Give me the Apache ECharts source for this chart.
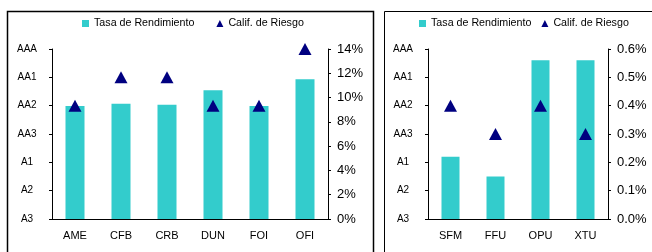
<!DOCTYPE html>
<html>
<head>
<meta charset="utf-8">
<script src="https://cdn.jsdelivr.net/npm/echarts@6/dist/echarts.min.js"></script>
<style>
  html, body { margin: 0; padding: 0; background: #fff; }
  #chart { width: 652px; height: 252px; }
</style>
</head>
<body>
<div id="chart"></div>
<script>
// calificaciones, de abajo hacia arriba
const ratings = ['A3', 'A2', 'A1', 'AA3', 'AA2', 'AA1', 'AAA'];

// panel izquierdo
const leftCats = ['AME', 'CFB', 'CRB', 'DUN', 'FOI', 'OFI'];
const leftRates = [9.3, 9.5, 9.4, 10.6, 9.3, 11.5];
const leftRisk = ['AA2', 'AA1', 'AA1', 'AA2', 'AA2', 'AAA'];

// panel derecho
const rightCats = ['SFM', 'FFU', 'OPU', 'XTU'];
const rightRates = [0.22, 0.15, 0.56, 0.56];
const rightRisk = ['AA2', 'AA3', 'AA2', 'AA3'];

const FONT = 'Liberation Sans, Arial, sans-serif';
const BAR = '#33CCCC';
const MARK = '#000080';
const AXIS = '#000';

function catAxis(idx, data) {
    return {
        type: 'category',
        gridIndex: idx,
        data: data,
        axisLine: { lineStyle: { color: AXIS } },
        axisTick: { length: 4, lineStyle: { color: AXIS } },
        axisLabel: { color: '#000', fontFamily: FONT, fontSize: 11, margin: 11 }
    };
}

function ratingAxis(idx) {
    return {
        type: 'category',
        gridIndex: idx,
        position: 'left',
        data: ratings,
        boundaryGap: false,
        axisLine: { show: true, lineStyle: { color: AXIS } },
        axisTick: { show: true, length: 3, lineStyle: { color: AXIS } },
        splitLine: { show: false },
        axisLabel: { color: '#000', fontFamily: FONT, fontSize: 10, align: 'center', margin: 25 }
    };
}

function rateAxis(idx, max, interval, fmt) {
    return {
        type: 'value',
        gridIndex: idx,
        position: 'right',
        min: 0,
        max: max,
        interval: interval,
        axisLine: { show: true, lineStyle: { color: AXIS } },
        axisTick: { show: true, length: 3, lineStyle: { color: AXIS } },
        splitLine: { show: false },
        axisLabel: { color: '#000', fontFamily: FONT, fontSize: 13, margin: 9, formatter: fmt }
    };
}

const legendData = [
    { name: 'Tasa de Rendimiento', icon: 'rect' },
    { name: 'Calif. de Riesgo', icon: 'triangle' }
];

const chart = echarts.init(document.getElementById('chart'));
chart.setOption({
    backgroundColor: '#fff',
    animation: false,
    legend: [
        {
            left: 77, top: 13, itemWidth: 7, itemHeight: 7, itemGap: 22,
            selectedMode: false, data: legendData,
            textStyle: { color: '#000', fontFamily: FONT, fontSize: 10.7 }
        },
        {
            left: 414, top: 13, itemWidth: 7, itemHeight: 7, itemGap: 10,
            selectedMode: false, data: legendData,
            textStyle: { color: '#000', fontFamily: FONT, fontSize: 10.7 }
        }
    ],
    graphic: [
        { type: 'rect', shape: { x: 7.5, y: 11.5, width: 366, height: 260 },
          style: { fill: null, stroke: '#000', lineWidth: 1.5 } },
        { type: 'rect', shape: { x: 384.5, y: 11.5, width: 290, height: 260 },
          style: { fill: null, stroke: '#000', lineWidth: 1 } }
    ],
    grid: [
        { left: 52, right: 324, top: 49, bottom: 33 },
        { left: 428, right: 44, top: 49, bottom: 33 }
    ],
    xAxis: [catAxis(0, leftCats), catAxis(1, rightCats)],
    yAxis: [
        ratingAxis(0),
        rateAxis(0, 14, 2, '{value}%'),
        ratingAxis(1),
        rateAxis(1, 0.6, 0.1, (v) => v.toFixed(1) + '%')
    ],
    series: [
        {
            name: 'Tasa de Rendimiento', type: 'bar',
            xAxisIndex: 0, yAxisIndex: 1, barWidth: 19,
            itemStyle: { color: BAR }, data: leftRates
        },
        {
            name: 'Calif. de Riesgo', type: 'scatter',
            xAxisIndex: 0, yAxisIndex: 0, symbol: 'triangle', symbolSize: [13, 12],
            itemStyle: { color: MARK, opacity: 1 },
            data: leftCats.map((c, i) => [c, leftRisk[i]])
        },
        {
            name: 'Tasa de Rendimiento', type: 'bar',
            xAxisIndex: 1, yAxisIndex: 3, barWidth: 18,
            itemStyle: { color: BAR }, data: rightRates
        },
        {
            name: 'Calif. de Riesgo', type: 'scatter',
            xAxisIndex: 1, yAxisIndex: 2, symbol: 'triangle', symbolSize: [13, 12],
            itemStyle: { color: MARK, opacity: 1 },
            data: rightCats.map((c, i) => [c, rightRisk[i]])
        }
    ]
});
</script>
</body>
</html>
